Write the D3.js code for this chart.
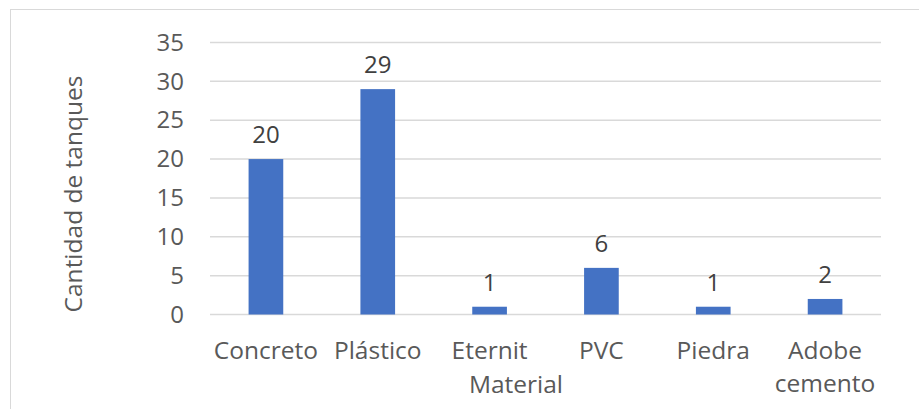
<!DOCTYPE html>
<html><head><meta charset="utf-8">
<script src="https://cdn.jsdelivr.net/npm/d3@7"></script>
<style>body{margin:0;background:#fff}svg{display:block}text{font-family:"Open Sans",sans-serif}</style>
</head><body>
<svg id="c" width="919" height="409"></svg>
<script>
const categories = ["Concreto", "Plástico", "Eternit", "PVC", "Piedra", "Adobe cemento"];
const values = [20, 29, 1, 6, 1, 2];
const yTicks = [0, 5, 10, 15, 20, 25, 30, 35];
const yTitle = "Cantidad de tanques";
const xTitle = "Material";

const svg = d3.select("#c");
const fs = 24.5;
svg.append("rect").attr("x", 10.5).attr("y", 9.5).attr("width", 930).attr("height", 420)
  .attr("fill", "#fff").attr("stroke", "#d9d9d9").attr("stroke-width", 1);

const x = d3.scaleBand().domain(categories).range([210, 881]).paddingInner(0.69).paddingOuter(0.345);
const y = d3.scaleLinear().domain([0, 35]).range([314.5, 42.5]);

const grid = svg.append("g");
grid.selectAll("line").data(yTicks).join("line")
  .attr("x1", 210).attr("x2", 881)
  .attr("y1", d => y(d)).attr("y2", d => y(d))
  .attr("stroke", "#d9d9d9").attr("stroke-width", 1.5);

const yAxis = d3.axisLeft(y).tickValues(yTicks).tickSize(0).tickPadding(0);
svg.append("g").attr("transform", "translate(184,0)").call(yAxis)
  .call(g => g.select(".domain").remove())
  .selectAll("text").attr("font-size", 24).attr("fill", "#595959")
  .attr("font-family", '"Open Sans",sans-serif');

svg.append("g").selectAll("rect").data(categories).join("rect")
  .attr("x", d => x(d)).attr("width", x.bandwidth())
  .attr("y", (d, i) => y(values[i])).attr("height", (d, i) => y(0) - y(values[i]))
  .attr("fill", "#4472c4");

svg.append("g").selectAll("text").data(categories).join("text")
  .attr("x", d => x(d) + x.bandwidth() / 2)
  .attr("y", (d, i) => y(values[i]) - 16)
  .attr("text-anchor", "middle").attr("font-size", 24).attr("fill", "#404040")
  .text((d, i) => values[i]);

const xl = svg.append("g").selectAll("text").data(categories).join("text")
  .attr("text-anchor", "middle").attr("font-size", fs).attr("fill", "#595959")
  .attr("y", 359);
xl.each(function (d) {
  const words = d.split(" ");
  const t = d3.select(this);
  const cx = x(d) + x.bandwidth() / 2;
  words.forEach((w, i) => t.append("tspan").attr("x", cx).attr("dy", i ? 33 : 0).text(w));
});

svg.append("text").attr("x", 516).attr("y", 393).attr("text-anchor", "middle")
  .attr("font-size", fs).attr("fill", "#595959").text(xTitle);

svg.append("text").attr("transform", "translate(82,194) rotate(-90)")
  .attr("text-anchor", "middle").attr("font-size", fs).attr("fill", "#595959").text(yTitle);
</script>
</body></html>
